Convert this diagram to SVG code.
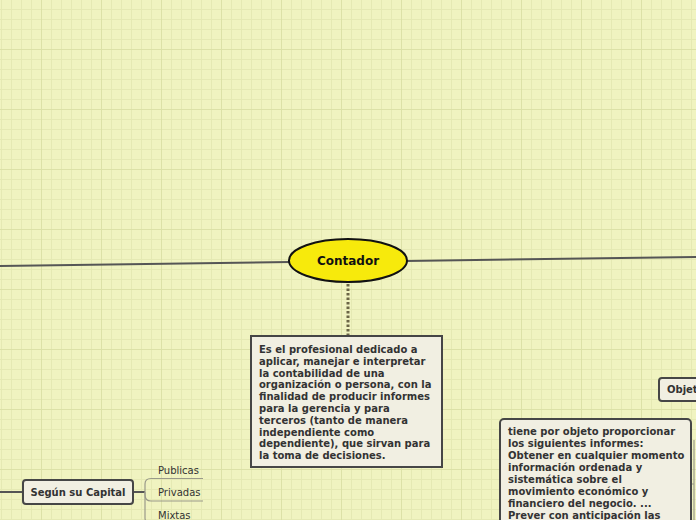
<svg xmlns="http://www.w3.org/2000/svg" width="696" height="520" viewBox="0 0 696 520">
<style>
.box{fill:#f1efe2;stroke:#464646;stroke-width:2}
.t{font-family:"DejaVu Sans",Verdana,sans-serif;font-size:10px;fill:#333}
.b{font-weight:bold}
.conn{fill:none;stroke:#555;stroke-width:2}
.sub{fill:none;stroke:#9a9a8a;stroke-width:1.2}
</style>
<defs>
<pattern id="grid" width="60" height="60" patternUnits="userSpaceOnUse">
<rect width="60" height="60" fill="#f0f3c0"/>
<g fill="#e5e9b3">
<rect x="1" y="0" width="1" height="60"/><rect x="11" y="0" width="1" height="60"/><rect x="21" y="0" width="1" height="60"/><rect x="31" y="0" width="1" height="60"/><rect x="51" y="0" width="1" height="60"/>
<rect x="0" y="9" width="60" height="1"/><rect x="0" y="19" width="60" height="1"/><rect x="0" y="29" width="60" height="1"/><rect x="0" y="39" width="60" height="1"/><rect x="0" y="59" width="60" height="1"/>
</g>
<g fill="#dce1a7">
<rect x="41" y="0" width="1" height="60"/><rect x="0" y="49" width="60" height="1"/>
</g>
</pattern>
</defs>
<rect width="696" height="520" fill="url(#grid)"/>
<g id="connectors">
<line class="conn" x1="0" y1="266" x2="290" y2="262"/>
<line class="conn" x1="406" y1="261" x2="696" y2="257"/>
<line x1="348" y1="284" x2="348" y2="335" stroke="#6b6646" stroke-width="3" stroke-dasharray="2.5 2"/>
<line class="conn" x1="0" y1="492" x2="22" y2="492"/>
<line class="conn" x1="133" y1="492" x2="145" y2="492"/>
<path class="sub" d="M145,492 V484 Q145,478.5 151,478.5 H203"/>
<path class="sub" d="M145,492 V495 Q145,501 151,501 H203" stroke-width="1.6"/>
<path class="sub" d="M145,492 V518 Q145,523 151,523 H203"/>
<path class="sub" d="M691,484 H694 M694,440 V520" stroke="#777"/>
</g>
<g id="contador">
<ellipse cx="348" cy="260.5" rx="59" ry="21.5" fill="#f7ea0c" stroke="#111" stroke-width="2"/>
<text class="t b" x="348" y="265" text-anchor="middle" style="font-size:12px;fill:#111">Contador</text>
</g>
<g id="definicion">
<rect class="box" x="251" y="336" width="191" height="131"/>
<text class="t b">
<tspan x="259" y="353">Es el profesional dedicado a</tspan>
<tspan x="259" y="364.8">aplicar, manejar e interpretar</tspan>
<tspan x="259" y="376.6">la contabilidad de una</tspan>
<tspan x="259" y="388.4">organización o persona, con la</tspan>
<tspan x="259" y="400.2">finalidad de producir informes</tspan>
<tspan x="259" y="412">para la gerencia y para</tspan>
<tspan x="259" y="423.8">terceros (tanto de manera</tspan>
<tspan x="259" y="435.6">independiente como</tspan>
<tspan x="259" y="447.4">dependiente), que sirvan para</tspan>
<tspan x="259" y="459.2">la toma de decisiones.</tspan>
</text>
</g>
<g id="segun-capital">
<rect class="box" x="23" y="480" width="110" height="24" rx="3"/>
<text class="t b" x="78" y="495.5" text-anchor="middle">Según su Capital</text>
</g>
<g id="publicas"><text class="t" x="158" y="474">Publicas</text></g>
<g id="privadas"><text class="t" x="158" y="496">Privadas</text></g>
<g id="mixtas"><text class="t" x="158" y="519">Mixtas</text></g>
<g id="objet">
<rect class="box" x="659" y="378" width="60" height="23" rx="3"/>
<text class="t b" x="667" y="393">Objet</text>
</g>
<g id="informes">
<rect class="box" x="500" y="419" width="191" height="120" rx="4"/>
<text class="t b">
<tspan x="508" y="435">tiene por objeto proporcionar</tspan>
<tspan x="508" y="447">los siguientes informes:</tspan>
<tspan x="508" y="459">Obtener en cualquier momento</tspan>
<tspan x="508" y="471">información ordenada y</tspan>
<tspan x="508" y="483">sistemática sobre el</tspan>
<tspan x="508" y="495">movimiento económico y</tspan>
<tspan x="508" y="507">financiero del negocio. ...</tspan>
<tspan x="508" y="519">Prever con anticipación las</tspan>
</text>
</g>
</svg>
